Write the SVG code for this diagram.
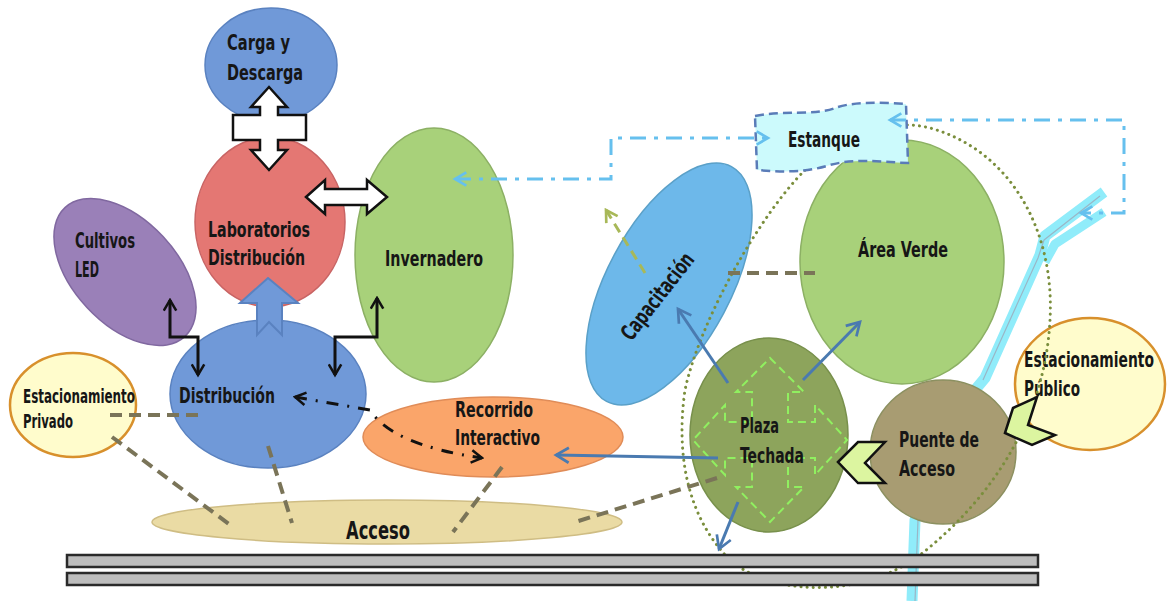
<svg xmlns="http://www.w3.org/2000/svg" width="1168" height="601" viewBox="0 0 1168 601">
<style>
.t{font-family:"Liberation Sans Narrow","DejaVu Sans Condensed","DejaVu Sans",sans-serif;font-weight:bold;font-size:22px;fill:#161616;font-stretch:condensed}
.s{font-size:19px}
.dash{fill:none;stroke:#7a7458;stroke-width:4;stroke-dasharray:12 7}
.blue{fill:none;stroke:#4a7ab0;stroke-width:3;marker-end:url(#ahBlue)}
.lb{fill:none;stroke:#66c0ee;stroke-width:3;stroke-dasharray:16 8 4 8;marker-start:url(#ahLB);marker-end:url(#ahLB)}
.blk{fill:none;stroke:#111;stroke-width:3;marker-start:url(#ahBlk);marker-end:url(#ahBlk)}
.chev{fill:#dcf5a0;stroke:#111;stroke-width:2.5;stroke-linejoin:miter}
.road{fill:#bdbdbd;stroke:#2a2a2a;stroke-width:2.5}
</style>
<defs>
<marker id="ahBlk" viewBox="0 0 12 12" refX="10" refY="6" markerWidth="15" markerHeight="15" markerUnits="userSpaceOnUse" orient="auto-start-reverse"><path d="M1.5,1 L10,6 L1.5,11" fill="none" stroke="#111" stroke-width="2"/></marker>
<marker id="ahBlue" viewBox="0 0 12 12" refX="10" refY="6" markerWidth="18" markerHeight="18" markerUnits="userSpaceOnUse" orient="auto"><path d="M1.5,1 L10,6 L1.5,11" fill="none" stroke="#4a7ab0" stroke-width="1.8"/></marker>
<marker id="ahLB" viewBox="0 0 12 12" refX="10" refY="6" markerWidth="16" markerHeight="16" markerUnits="userSpaceOnUse" orient="auto-start-reverse"><path d="M1.5,1 L10,6 L1.5,11" fill="none" stroke="#66c0ee" stroke-width="2"/></marker>
<marker id="ahGr" viewBox="0 0 12 12" refX="10" refY="6" markerWidth="16" markerHeight="16" markerUnits="userSpaceOnUse" orient="auto"><path d="M1.5,1 L10,6 L1.5,11" fill="none" stroke="#a8b858" stroke-width="2"/></marker>
</defs>
<rect width="1168" height="601" fill="#ffffff"/>

<g id="rio" fill="none" stroke-linejoin="round">
<path d="M1104,192 L1045,236 L1040,255 L1002,340 L985,378 L950,420 L915,520 L912,601" stroke="#90ecfa" stroke-width="11"/>
<path d="M1104,212 L1055,244 L1045,262" stroke="#90ecfa" stroke-width="9"/>
<path d="M1100,196 L1044,240 L1038,258 L1000,342 L983,380" stroke="#9ab6c6" stroke-width="1.2"/>
<path d="M918,520 L915,601" stroke="#9ab6c6" stroke-width="1.2"/>
</g>

<g id="carga"><ellipse cx="271" cy="65" rx="66" ry="57" fill="#7099d8" stroke="#5a82c0" stroke-width="1.5"/>
<text class="t" x="227" y="50" textLength="63" lengthAdjust="spacingAndGlyphs">Carga y</text>
<text class="t" x="227" y="80" textLength="76" lengthAdjust="spacingAndGlyphs">Descarga</text></g>

<g id="laboratorios"><ellipse cx="270" cy="222" rx="75" ry="85" fill="#e47773" stroke="#c86464" stroke-width="1.5"/>
<text class="t" x="208" y="237" textLength="102" lengthAdjust="spacingAndGlyphs">Laboratorios</text>
<text class="t" x="208" y="265" textLength="97" lengthAdjust="spacingAndGlyphs">Distribución</text></g>

<g id="invernadero"><ellipse cx="434" cy="255" rx="79" ry="127" fill="#a8d17a" stroke="#8cb064" stroke-width="1.5"/>
<text class="t" x="385" y="266" textLength="98" lengthAdjust="spacingAndGlyphs">Invernadero</text></g>

<g id="cultivos"><ellipse cx="0" cy="0" rx="88" ry="52" transform="translate(125,272) rotate(47)" fill="#9a80b8" stroke="#8068a0" stroke-width="1.5"/>
<text class="t" x="75" y="248" textLength="60" lengthAdjust="spacingAndGlyphs">Cultivos</text>
<text class="t" x="75" y="277" textLength="24" lengthAdjust="spacingAndGlyphs">LED</text></g>

<g id="est-privado"><ellipse cx="73" cy="405" rx="63" ry="52" fill="#fffccc" stroke="#d8902c" stroke-width="2.5"/>
<text class="t s" x="23" y="403" textLength="112" lengthAdjust="spacingAndGlyphs">Estacionamiento</text>
<text class="t s" x="23" y="428" textLength="50" lengthAdjust="spacingAndGlyphs">Privado</text></g>

<g id="distribucion"><ellipse cx="268" cy="394" rx="98" ry="74" fill="#7099d8" stroke="#5a82c0" stroke-width="1.5"/>
<text class="t" x="179" y="403" textLength="96" lengthAdjust="spacingAndGlyphs">Distribución</text></g>

<g id="recorrido"><ellipse cx="493" cy="437" rx="130" ry="40" fill="#faa56a" stroke="#e08c58" stroke-width="1.5"/>
<text class="t" x="455" y="417" textLength="78" lengthAdjust="spacingAndGlyphs">Recorrido</text>
<text class="t" x="455" y="445" textLength="85" lengthAdjust="spacingAndGlyphs">Interactivo</text></g>

<g id="acceso"><ellipse cx="387" cy="522" rx="235" ry="22" fill="#eadba4" stroke="#cfbd84" stroke-width="1.5"/>
<text class="t" x="346" y="539" style="font-size:25px" textLength="64" lengthAdjust="spacingAndGlyphs">Acceso</text></g>

<g id="capacitacion"><ellipse cx="0" cy="0" rx="133" ry="62" transform="translate(669,284) rotate(-62)" fill="#6db8ea" stroke="#5aa0c8" stroke-width="1.5"/>
<text class="t" x="0" y="8" text-anchor="middle" transform="translate(657,296) rotate(-52)" textLength="104" lengthAdjust="spacingAndGlyphs">Capacitación</text></g>

<g id="area-verde"><ellipse cx="902" cy="262" rx="102" ry="122" fill="#a8d17a" stroke="#8cb064" stroke-width="1.5"/>
<text class="t" x="858" y="257" textLength="90" lengthAdjust="spacingAndGlyphs">Área Verde</text></g>

<g id="plaza"><ellipse cx="769" cy="435" rx="79" ry="97" fill="#8da45c" stroke="#78904c" stroke-width="1.5"/>
<polygon points="770,358 804,392 788,392 788,422 815,422 815,405 847,440 815,475 815,458 788,458 788,487 804,487 770,522 736,487 752,487 752,458 725,458 725,475 693,440 725,405 725,422 752,422 752,392 736,392" fill="none" stroke="#90f060" stroke-width="2" stroke-dasharray="8 5"/>
<text class="t" x="740" y="433" textLength="39" lengthAdjust="spacingAndGlyphs">Plaza</text>
<text class="t" x="740" y="463" textLength="64" lengthAdjust="spacingAndGlyphs">Techada</text></g>

<g id="puente"><ellipse cx="943" cy="452" rx="73" ry="72" fill="#a89c72" stroke="#8c9060" stroke-width="1.5"/>
<text class="t" x="899" y="447" textLength="80" lengthAdjust="spacingAndGlyphs">Puente de</text>
<text class="t" x="899" y="476" textLength="56" lengthAdjust="spacingAndGlyphs">Acceso</text></g>

<g id="est-publico"><ellipse cx="1090" cy="384" rx="75" ry="66" fill="#fffccc" stroke="#d8902c" stroke-width="2.5"/>
<text class="t" x="0" y="0" transform="translate(1024,367) scale(0.58,1)" textLength="224" lengthAdjust="spacingAndGlyphs">Estacionamiento</text>
<text class="t" x="1024" y="396" textLength="56" lengthAdjust="spacingAndGlyphs">Público</text></g>

<g id="limite">
<path d="M805,170 C760,215 700,320 685,390 C675,460 690,520 730,560 C770,595 860,600 920,555 C990,500 1045,420 1050,320 C1055,230 1010,150 930,128 C880,115 830,145 805,170 Z" fill="none" stroke="#7a8e3c" stroke-width="3" stroke-linecap="round" stroke-dasharray="0.1 6"/>
</g>

<g id="estanque">
<path d="M755,116 C785,110 815,116 835,108 C850,102 880,102 906,104 L908,163 C880,162 855,158 830,165 C805,173 780,172 757,170 Z" fill="#ccfafc" stroke="#5a7cb8" stroke-width="2.5" stroke-dasharray="9 5"/>
<text class="t" x="788" y="147" textLength="72" lengthAdjust="spacingAndGlyphs">Estanque</text>
</g>

<g id="conectores">
<polygon points="269,87 287,107 278,107 278,115 306,115 306,140 278,140 278,150 287,150 269,170 251,150 260,150 260,140 233,140 233,115 260,115 260,107 251,107" fill="#ffffff" stroke="#111" stroke-width="2.5"/>
<polygon points="306,197 325,180 325,189 367,189 367,180 387,197 367,214 367,205 325,205 325,214" fill="#ffffff" stroke="#111" stroke-width="2.5"/>
<polygon points="268,278 298,303 282,303 282,335 269,322 257,335 257,303 240,303" fill="#7099d8" stroke="#5a82c0" stroke-width="2"/>
<path class="blk" d="M170,300 V337 H198 V375"/>
<path class="blk" d="M335,375 V337 H377 V298"/>
<path class="blk" d="M295,397 L370,410 Q392,445 482,458" stroke-dasharray="12 9 2 9"/>
<path class="dash" d="M110,415 H198"/>
<path class="dash" d="M112,437 L233,527"/>
<path class="dash" d="M268,446 L292,523"/>
<path class="dash" d="M502,467 L453,532"/>
<path class="dash" d="M717,478 L572,523"/>
<path class="dash" d="M728,273 H815"/>
<path class="blue" d="M718,458 L556,455"/>
<path class="blue" d="M728,383 L678,309"/>
<path class="blue" d="M803,380 L860,322"/>
<path class="blue" d="M738,502 L719,549"/>
<path d="M645,273 L606,210" fill="none" stroke="#a8b858" stroke-width="3" stroke-dasharray="10 6" marker-end="url(#ahGr)"/>
<path class="lb" d="M455,179 H611 V138 H768"/>
<path class="lb" d="M890,120 H1124 V213 H1081"/>
<polygon class="chev" points="838,462 858,442 885,442 865,463 885,483 858,483"/>
<polygon class="chev" points="1005,433 1013,408 1037,397 1028,425 1055,435 1032,445"/>
</g>

<g id="via">
<rect class="road" x="67" y="555" width="971" height="12"/>
<rect class="road" x="67" y="573" width="971" height="12"/>
</g>
</svg>
